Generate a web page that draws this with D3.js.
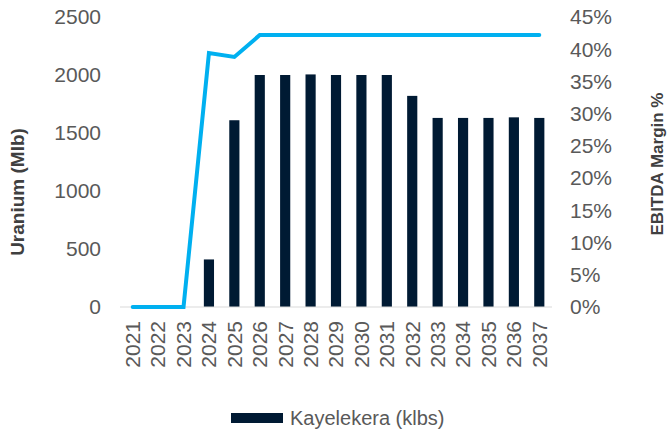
<!DOCTYPE html>
<html>
<head>
<meta charset="utf-8">
<script src="https://cdn.jsdelivr.net/npm/d3@7"></script>
<style>
  body { margin: 0; background: #fff; }
  text { font-family: "Liberation Sans", Arial, sans-serif; fill: #595959; }
</style>
</head>
<body>
<div id="chart"></div>
<script>
const years = ["2021","2022","2023","2024","2025","2026","2027","2028","2029","2030","2031","2032","2033","2034","2035","2036","2037"];
const uranium = [0, 0, 0, 410, 1610, 2000, 2000, 2005, 2000, 2000, 2000, 1820, 1630, 1630, 1630, 1635, 1630];
const ebitdaMargin = [0, 0, 0, 39.4, 38.8, 42.2, 42.2, 42.2, 42.2, 42.2, 42.2, 42.2, 42.2, 42.2, 42.2, 42.2, 42.2];
const leftTicks = [0, 500, 1000, 1500, 2000, 2500];
const rightTicks = [0, 5, 10, 15, 20, 25, 30, 35, 40, 45];

const width = 667, height = 433;
const plot = { left: 120, right: 552, top: 17, bottom: 307 };

const svg = d3.select("#chart").append("svg")
  .attr("width", width)
  .attr("height", height);

const x = d3.scaleBand().domain(years).range([plot.left, plot.right])
  .paddingInner(0.6).paddingOuter(0.3);
const yL = d3.scaleLinear().domain([0, 2500]).range([plot.bottom, plot.top]);
const yR = d3.scaleLinear().domain([0, 45]).range([plot.bottom, plot.top]);

// bars
svg.append("g")
  .selectAll("rect")
  .data(years)
  .join("rect")
  .attr("x", (d) => x(d))
  .attr("width", x.bandwidth())
  .attr("y", (d, i) => yL(uranium[i]))
  .attr("height", (d, i) => yL(0) - yL(uranium[i]))
  .attr("fill", "#001a33");

// baseline
svg.append("line")
  .attr("x1", plot.left).attr("x2", plot.right)
  .attr("y1", yL(0)).attr("y2", yL(0))
  .attr("stroke", "#d9d9d9").attr("stroke-width", 1);

// left axis labels
svg.append("g")
  .selectAll("text")
  .data(leftTicks)
  .join("text")
  .attr("x", plot.left - 19)
  .attr("y", (d) => yL(d))
  .attr("dy", "0.35em")
  .attr("text-anchor", "end")
  .style("font-size", "21px")
  .text((d) => d);

// right axis labels
svg.append("g")
  .selectAll("text")
  .data(rightTicks)
  .join("text")
  .attr("x", plot.right + 18)
  .attr("y", (d) => yR(d))
  .attr("dy", "0.35em")
  .attr("text-anchor", "start")
  .style("font-size", "21px")
  .text((d) => d + "%");

// year labels
svg.append("g")
  .selectAll("text")
  .data(years)
  .join("text")
  .attr("transform", (d) => `translate(${x(d) + x.bandwidth() / 2},${plot.bottom + 14}) rotate(-90)`)
  .attr("dy", "0.35em")
  .attr("text-anchor", "end")
  .style("font-size", "21px")
  .text((d) => d);

// margin line
const line = d3.line()
  .x((d, i) => x(years[i]) + x.bandwidth() / 2)
  .y((d) => yR(d));

svg.append("path")
  .datum(ebitdaMargin)
  .attr("d", line)
  .attr("fill", "none")
  .attr("stroke", "#00b0f0")
  .attr("stroke-width", 4)
  .attr("stroke-linecap", "round");

// axis titles
svg.append("text")
  .attr("transform", `translate(24,${(plot.top + plot.bottom) / 2 + 30}) rotate(-90)`)
  .attr("text-anchor", "middle")
  .style("font-size", "19px")
  .style("font-weight", "bold")
  .style("fill", "#404040")
  .text("Uranium (Mlb)");

svg.append("text")
  .attr("transform", `translate(663,${(plot.top + plot.bottom) / 2 + 2}) rotate(-90)`)
  .attr("text-anchor", "middle")
  .style("font-size", "17px")
  .style("font-weight", "bold")
  .style("fill", "#404040")
  .text("EBITDA Margin %");

// legend
const lg = svg.append("g").attr("transform", "translate(231,413)");
lg.append("rect").attr("width", 52).attr("height", 10).attr("fill", "#001a33");
lg.append("text")
  .attr("x", 59).attr("y", 5)
  .attr("dy", "0.35em")
  .style("font-size", "20px")
  .text("Kayelekera (klbs)");
</script>
</body>
</html>
